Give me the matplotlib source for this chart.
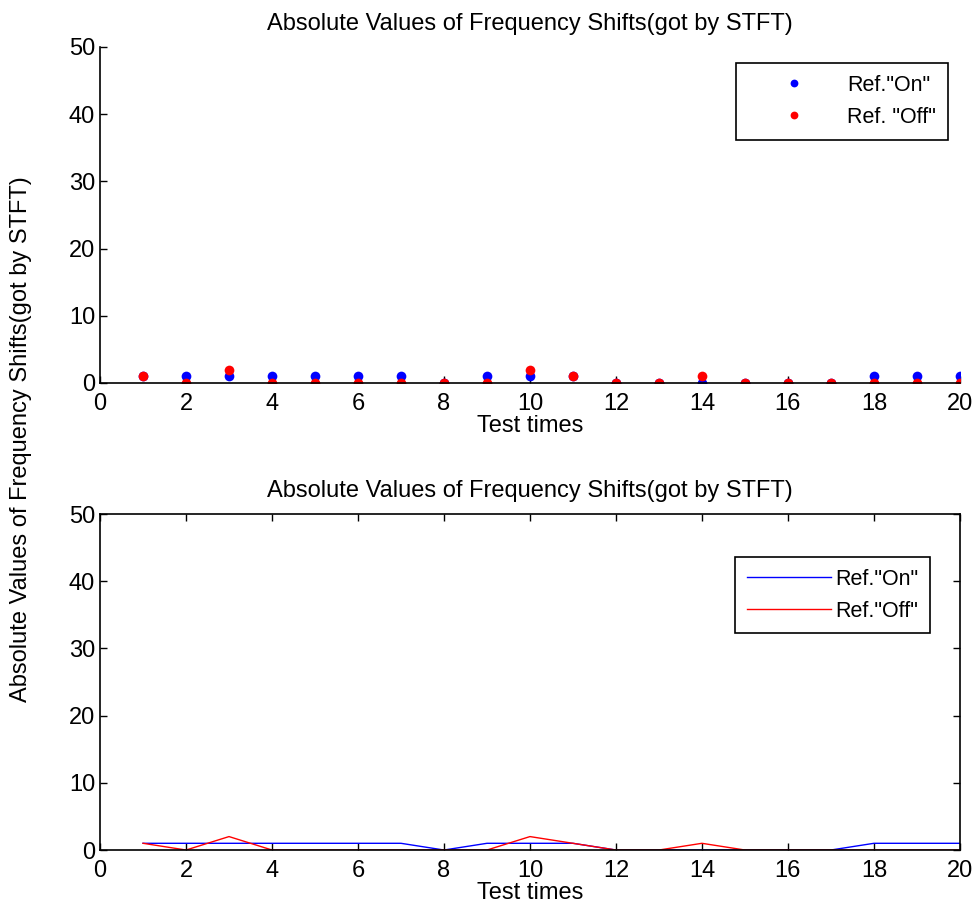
import matplotlib.pyplot as plt

plt.rcParams['font.family'] = ['Liberation Sans', 'DejaVu Sans']

# test number and absolute frequency shifts
test_times = list(range(1, 21))
ref_on = [1, 1, 1, 1, 1, 1, 1, 0, 1, 1, 1, 0, 0, 0, 0, 0, 0, 1, 1, 1]
ref_off = [1, 0, 2, 0, 0, 0, 0, 0, 0, 2, 1, 0, 0, 1, 0, 0, 0, 0, 0, 0]
title = 'Absolute Values of Frequency Shifts(got by STFT)'
xticks = list(range(0, 21, 2))
yticks = list(range(0, 51, 10))

fig = plt.figure(figsize=(9.76, 9.14), dpi=100)
ax1 = fig.add_axes([0.1025, 0.581, 0.881, 0.3676])
ax2 = fig.add_axes([0.1025, 0.070, 0.881, 0.3676])

ax1.plot(test_times, ref_on, 'o', color='#0000ff', markersize=7, mec='none', label='Ref."On"')
ax1.plot(test_times, ref_off, 'o', color='#ff0000', markersize=7, mec='none', label='Ref. "Off"')
ax1.spines['top'].set_visible(False)
ax1.spines['right'].set_visible(False)
leg1 = ax1.legend(loc='upper right', bbox_to_anchor=(0.986, 0.952), borderaxespad=0, fontsize=15.5,
                  fancybox=False, edgecolor='black', framealpha=1, borderpad=0.55, handletextpad=0.3,
                  labelspacing=0.5, handlelength=4.3, markerscale=0.8)
leg1.get_frame().set_linewidth(1.2)

ax2.plot(test_times, ref_on, color='#0000ff', lw=1, label='Ref."On"')
ax2.plot(test_times, ref_off, color='#ff0000', lw=1, label='Ref."Off"')
leg2 = ax2.legend(loc='upper right', bbox_to_anchor=(0.965, 0.872), borderaxespad=0, fontsize=15.5,
                  fancybox=False, edgecolor='black', framealpha=1, borderpad=0.55, handletextpad=0.2,
                  labelspacing=0.5, handlelength=3.9)
leg2.get_frame().set_linewidth(1.2)

for ax in (ax1, ax2):
    ax.set_xlim(0, 20)
    ax.set_ylim(0, 50)
    ax.set_xticks(xticks)
    ax.set_yticks(yticks)
    ax.tick_params(direction='in', labelsize=17, length=5, width=1, top=(ax is ax2), right=(ax is ax2))
    ax.tick_params(axis='x', pad=7)
    ax.set_title(title, fontsize=17, pad=12)
    ax.set_xlabel('Test times', fontsize=17, labelpad=0)
    for s in ax.spines.values():
        s.set_linewidth(1.2)

fig.text(0.022, 0.52, title, rotation=90, fontsize=17, ha='center', va='center')

fig.savefig('out.png', dpi=100)
